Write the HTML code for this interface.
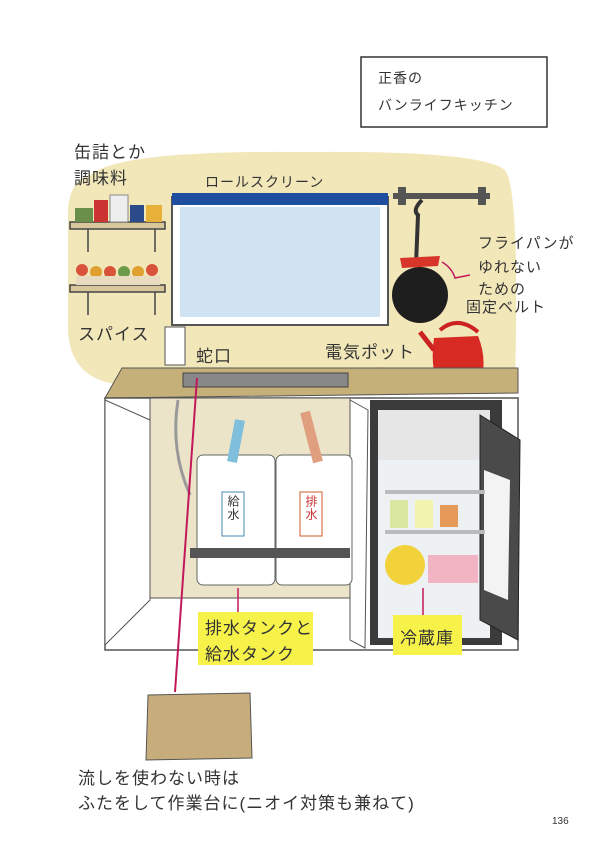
<!DOCTYPE html>
<html><head><meta charset="utf-8"><style>
body{margin:0;background:#fff;}
.p{position:relative;width:600px;height:851px;overflow:hidden;background:#fff;font-family:"Liberation Sans","Noto Sans CJK JP",sans-serif;}
.t{position:absolute;color:#333;font-size:17px;white-space:nowrap;letter-spacing:1px;}
</style></head><body><div class="p">
<svg width="600" height="851" style="position:absolute;left:0;top:0">
<!-- wall -->
<path d="M90 175 Q120 150 300 152 Q480 150 505 170 Q520 190 515 380 L122 385 Q70 380 68 330 L68 210 Q70 180 90 175Z" fill="#f1e7b9"/>
<!-- shelves -->
<g stroke="#444" stroke-width="1.5">
<rect x="70" y="222" width="95" height="7" fill="#d7c79a"/>
<rect x="70" y="285" width="95" height="7" fill="#d7c79a"/>
<line x1="88" y1="229" x2="88" y2="252"/><line x1="155" y1="229" x2="155" y2="252"/>
<line x1="88" y1="292" x2="88" y2="315"/><line x1="155" y1="292" x2="155" y2="315"/>
</g>
<rect x="75" y="208" width="18" height="14" fill="#6a8f4a"/><rect x="94" y="200" width="14" height="22" fill="#c33"/><rect x="110" y="195" width="18" height="27" fill="#eee" stroke="#888"/><rect x="130" y="205" width="14" height="17" fill="#2a4a8a"/><rect x="146" y="205" width="16" height="17" fill="#e8b23a"/>
<g fill="#d9533a"><circle cx="82" cy="270" r="6"/><circle cx="96" cy="272" r="6" fill="#e0a030"/><circle cx="110" cy="272" r="6"/><circle cx="124" cy="272" r="6" fill="#6a9a4a"/><circle cx="138" cy="272" r="6" fill="#e0a030"/><circle cx="152" cy="270" r="6"/></g>
<rect x="76" y="276" width="84" height="9" fill="#e8dcc0"/>
<!-- window -->
<rect x="172" y="197" width="216" height="128" fill="#fff" stroke="#555" stroke-width="2"/>
<rect x="180" y="207" width="200" height="110" fill="#cfe3f3"/>
<rect x="172" y="193" width="216" height="12" fill="#1d4f9e"/>
<!-- rail & pan -->
<rect x="393" y="193" width="97" height="6" fill="#555"/>
<rect x="398" y="187" width="8" height="18" fill="#555"/><rect x="478" y="187" width="8" height="18" fill="#555"/>
<path d="M422 200 Q412 210 418 215 L416 265" stroke="#333" stroke-width="4" fill="none"/>
<circle cx="420" cy="295" r="28" fill="#1e1e1e"/>
<path d="M400 258 L440 256 L438 266 L402 268Z" fill="#d8352a"/>
<path d="M442 262 Q452 268 455 278 L470 275" stroke="#c2185b" stroke-width="1.5" fill="none"/>
<!-- kettle -->
<path d="M434 338 Q430 365 438 386 L480 386 Q488 360 478 336Z" fill="#d62a22"/>
<path d="M440 330 Q458 315 478 332" stroke="#c22" stroke-width="4" fill="none"/>
<path d="M434 350 L420 332" stroke="#c22" stroke-width="5"/>
<path d="M378 368 Q400 375 430 372" stroke="#c2185b" stroke-width="1.5" fill="none"/>
<!-- faucet cup -->
<rect x="165" y="327" width="20" height="38" fill="#fff" stroke="#555"/>
<!-- counter -->
<path d="M122 368 L518 368 L518 393 L105 398Z" fill="#c6b07a" stroke="#555"/>
<rect x="183" y="373" width="165" height="14" fill="#888" stroke="#444"/>
<!-- cabinet -->
<rect x="105" y="398" width="413" height="252" fill="#fff" stroke="#555" stroke-width="1.5"/>
<rect x="150" y="398" width="200" height="200" fill="#ece4c8" stroke="#555"/>
<path d="M105 400 L150 420 L150 600 L105 645Z" fill="#fff" stroke="#555"/>
<path d="M350 400 L368 410 L365 648 L350 640Z" fill="#fff" stroke="#555"/>
<!-- tanks -->
<rect x="197" y="455" width="78" height="130" rx="6" fill="#fff" stroke="#666"/>
<rect x="276" y="455" width="76" height="130" rx="6" fill="#fff" stroke="#666"/>
<rect x="222" y="492" width="22" height="44" fill="#fff" stroke="#4a8ab0"/>
<rect x="300" y="492" width="22" height="44" fill="#fff" stroke="#d35a2a"/>
<rect x="190" y="548" width="160" height="10" fill="#555"/>
<path d="M240 420 L232 462" stroke="#7fbfdc" stroke-width="10"/>
<path d="M305 412 L318 462" stroke="#e0a080" stroke-width="10"/>
<path d="M178 400 Q170 450 190 495" stroke="#999" stroke-width="3" fill="none"/>
<!-- fridge -->
<rect x="370" y="400" width="132" height="245" fill="#3b3b3b"/>
<rect x="378" y="410" width="112" height="228" fill="#eef1f3"/>
<rect x="378" y="410" width="112" height="50" fill="#e6e6e6"/>
<path d="M480 415 L520 440 L518 640 L480 620Z" fill="#4a4a4a" stroke="#222"/>
<path d="M484 470 L510 480 L508 600 L484 590Z" fill="#f3f3f3"/>
<rect x="385" y="490" width="100" height="4" fill="#bbb"/><rect x="385" y="530" width="100" height="4" fill="#bbb"/>
<circle cx="405" cy="565" r="20" fill="#f2d23a"/>
<rect x="428" y="555" width="50" height="28" fill="#f2b3c2"/>
<rect x="390" y="500" width="18" height="28" fill="#d8e8a0"/><rect x="415" y="500" width="18" height="28" fill="#f3f3b0"/><rect x="440" y="505" width="18" height="22" fill="#e69a5a"/>
<!-- labels -->
<rect x="198" y="612" width="115" height="53" fill="#f6f24a"/>
<rect x="393" y="615" width="69" height="40" fill="#f6f24a"/>
<line x1="423" y1="588" x2="423" y2="615" stroke="#c2185b" stroke-width="1.5"/>
<line x1="238" y1="588" x2="238" y2="612" stroke="#c2185b" stroke-width="1.5"/>
<line x1="197" y1="378" x2="175" y2="692" stroke="#c2185b" stroke-width="2"/>
<!-- board -->
<path d="M148 695 L250 693 L252 758 L146 760Z" fill="#c7ad7b" stroke="#555"/>
<!-- title -->
<rect x="361" y="57" width="186" height="70" fill="#fff" stroke="#333" stroke-width="1.5"/>
</svg>
<div class="t" style="left:378px;top:68px;font-size:14px">正香の</div>
<div class="t" style="left:378px;top:95px;font-size:14px">バンライフキッチン</div>
<div class="t" style="left:74px;top:138px">缶詰とか</div>
<div class="t" style="left:74px;top:164px">調味料</div>
<div class="t" style="left:205px;top:172px;font-size:14px">ロールスクリーン</div>
<div class="t" style="left:78px;top:320px">スパイス</div>
<div class="t" style="left:478px;top:232px;font-size:15px">フライパンが</div>
<div class="t" style="left:478px;top:256px;font-size:15px">ゆれない</div>
<div class="t" style="left:478px;top:278px;font-size:15px">ための</div>
<div class="t" style="left:466px;top:296px;font-size:15px">固定ベルト</div>
<div class="t" style="left:196px;top:342px">蛇口</div>
<div class="t" style="left:325px;top:338px">電気ポット</div>
<div class="t" style="left:225px;top:495px;font-size:12px;writing-mode:vertical-rl">給水</div>
<div class="t" style="left:303px;top:495px;font-size:12px;writing-mode:vertical-rl;color:#c33">排水</div>
<div class="t" style="left:205px;top:614px">排水タンクと</div>
<div class="t" style="left:205px;top:640px">給水タンク</div>
<div class="t" style="left:400px;top:624px">冷蔵庫</div>
<div class="t" style="left:78px;top:764px">流しを使わない時は</div>
<div class="t" style="left:78px;top:789px">ふたをして作業台に(ニオイ対策も兼ねて)</div>
<div class="t" style="left:552px;top:816px;font-size:10px;letter-spacing:0">136</div>
</div></body></html>
